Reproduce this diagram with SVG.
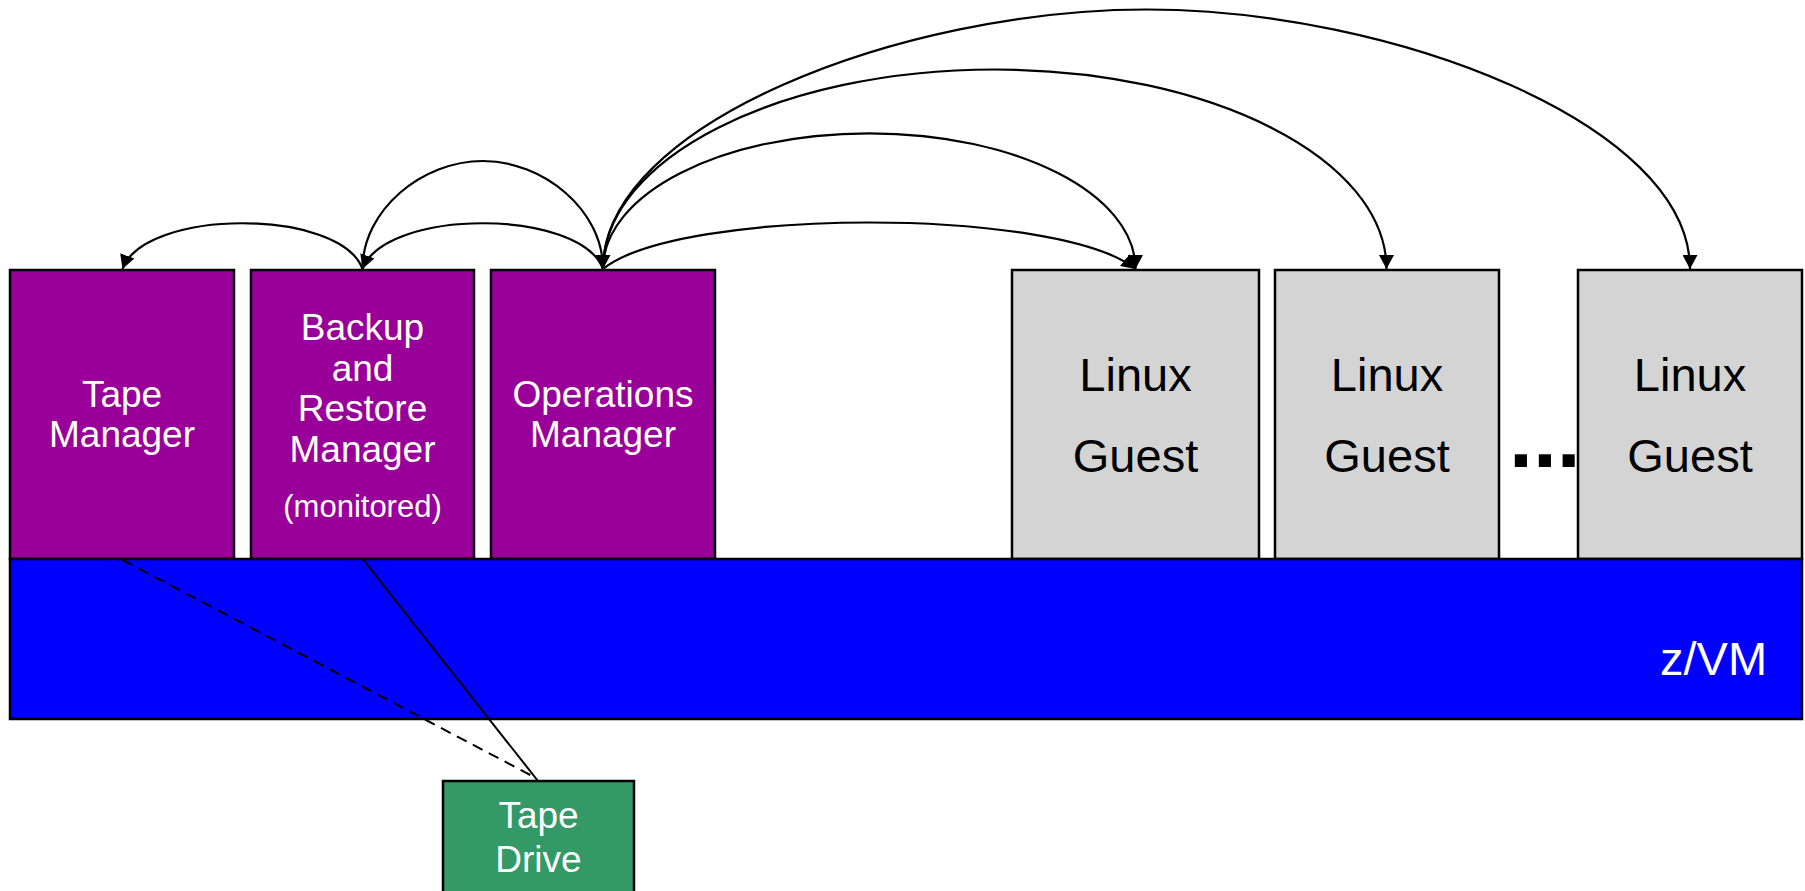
<svg xmlns="http://www.w3.org/2000/svg" width="1805" height="891" viewBox="0 0 1805 891">
<style>
.box{stroke:#000;stroke-width:2.5}
.mgr{fill:#990099}
.lin{fill:#D4D4D4}
.t{font-family:"Liberation Sans",Arial,Helvetica,sans-serif;text-anchor:middle}
.w{fill:#fff;font-size:37px}
.k{fill:#000;font-size:47px}
.c{fill:none;stroke:#000;stroke-width:2.2}
</style>
<defs>
<marker id="ah" markerUnits="userSpaceOnUse" viewBox="0 0 14 15" refX="14" refY="7.5" markerWidth="14" markerHeight="15" orient="auto">
<path d="M0,0 L14,7.5 L0,15 z" fill="#000"/>
</marker>
</defs>
<rect width="1805" height="891" fill="#fff"/>

<g id="tape-manager">
<rect class="box mgr" x="10" y="270" width="224" height="289"/>
<text class="t w" x="122" y="406.7">Tape</text>
<text class="t w" x="122" y="446.7">Manager</text>
</g>
<g id="backup-restore-manager">
<rect class="box mgr" x="251" y="270" width="223" height="289"/>
<text class="t w" x="362.5" y="340">Backup</text>
<text class="t w" x="362.5" y="380.5">and</text>
<text class="t w" x="362.5" y="421">Restore</text>
<text class="t w" x="362.5" y="461.5">Manager</text>
<text class="t" x="362.5" y="516.5" fill="#fff" font-size="31">(monitored)</text>
</g>
<g id="operations-manager">
<rect class="box mgr" x="491" y="270" width="224" height="289"/>
<text class="t w" x="603" y="406.7">Operations</text>
<text class="t w" x="603" y="446.7">Manager</text>
</g>
<g id="linux-guest-1">
<rect class="box lin" x="1012" y="270" width="247" height="289"/>
<text class="t k" x="1135.5" y="391">Linux</text>
<text class="t k" x="1135.5" y="472">Guest</text>
</g>
<g id="linux-guest-2">
<rect class="box lin" x="1275" y="270" width="224" height="289"/>
<text class="t k" x="1387" y="391">Linux</text>
<text class="t k" x="1387" y="472">Guest</text>
</g>
<g id="ellipsis">
<text x="1509" y="467" font-family="Liberation Sans,Arial,sans-serif" font-weight="bold" font-size="86" fill="#000">...</text>
</g>
<g id="linux-guest-3">
<rect class="box lin" x="1578" y="270" width="224" height="289"/>
<text class="t k" x="1690" y="391">Linux</text>
<text class="t k" x="1690" y="472">Guest</text>
</g>
<g id="zvm">
<rect class="box" x="10" y="559" width="1792" height="160" fill="#0000FF"/>
<text x="1660" y="675" font-family="Liberation Sans,Arial,sans-serif" font-size="47" fill="#fff">z/VM</text>
</g>

<g id="connectors">
<line x1="122.5" y1="560" x2="536" y2="778" stroke="#000" stroke-width="2" stroke-dasharray="11 7"/>
<line x1="363.5" y1="560" x2="538" y2="781" stroke="#000" stroke-width="2"/>
<path class="c" marker-end="url(#ah)" d="M362.5,269 C340.5,208 144.5,208 122.5,269"/>
<path class="c" marker-end="url(#ah)" d="M603,269 C580.5,208 385,208 362.5,269"/>
<path class="c" marker-end="url(#ah)" d="M362.5,269 C362.5,209.6 422.6,161 482.75,161 C542.9,161 603,209.6 603,269"/>
<path class="c" marker-end="url(#ah)" d="M603,269 C679.5,207 1059,207 1135.5,269"/>
<path class="c" marker-end="url(#ah)" d="M603,269 C603,194 721.2,133.3 869.25,133.3 C1017.3,133.3 1135.5,194 1135.5,269"/>
<path class="c" marker-end="url(#ah)" d="M603,269 C603,158.8 778.4,69.5 994.75,69.5 C1211.1,69.5 1386.5,158.8 1386.5,269"/>
<path class="c" marker-end="url(#ah)" d="M603,269 C603,123.7 902,9.5 1146.5,9.5 C1391,9.5 1690,123.7 1690,269"/>
</g>

<g id="tape-drive">
<rect class="box" x="443" y="781" width="191" height="120" fill="#339966"/>
<text class="t w" x="538.5" y="828.3">Tape</text>
<text class="t w" x="538.5" y="871.7">Drive</text>
</g>
</svg>
